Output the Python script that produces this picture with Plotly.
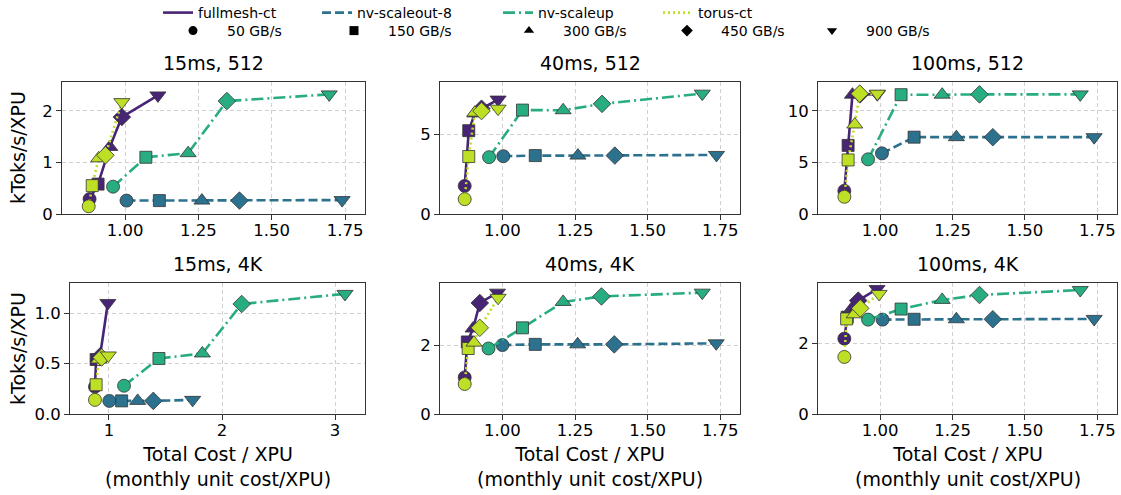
import plotly.graph_objects as go

W, H = 1121, 495

panel_titles = ["15ms, 512", "40ms, 512", "100ms, 512", "15ms, 4K", "40ms, 4K", "100ms, 4K"]
bandwidth_labels = ["50 GB/s", "150 GB/s", "300 GB/s", "450 GB/s", "900 GB/s"]
topologies = ["fullmesh-ct", "nv-scaleout-8", "nv-scaleup", "torus-ct"]

# cost per XPU (x) and throughput (y) for each panel, one list per topology
fullmesh_x = [
    [0.879, 0.908, 0.948, 0.989, 1.112],
    [0.870, 0.884, 0.905, 0.928, 0.985],
    [0.876, 0.889, 0.904, 0.930, 0.990],
    [0.876, 0.886, 0.905, 0.920, 0.990],
    [0.870, 0.879, 0.899, 0.922, 0.983],
    [0.876, 0.886, 0.905, 0.924, 0.989],
]
fullmesh_y = [
    [0.29, 0.58, 1.30, 1.88, 2.30],
    [1.76, 5.22, 6.30, 6.60, 7.17],
    [2.25, 6.65, 11.57, 11.60, 11.62],
    [0.27, 0.54, 0.56, 0.57, 1.10],
    [1.06, 2.09, 2.48, 3.22, 3.52],
    [2.14, 2.75, 3.03, 3.22, 3.55],
]
scaleout_x = [
    [1.005, 1.117, 1.262, 1.390, 1.740],
    [1.003, 1.113, 1.260, 1.387, 1.737],
    [1.006, 1.117, 1.263, 1.389, 1.739],
    [1.003, 1.112, 1.254, 1.392, 1.740],
    [1.000, 1.113, 1.259, 1.385, 1.736],
    [1.008, 1.117, 1.263, 1.389, 1.739],
]
scaleout_y = [
    [0.26, 0.26, 0.26, 0.26, 0.27],
    [3.62, 3.66, 3.66, 3.66, 3.70],
    [5.88, 7.45, 7.45, 7.45, 7.45],
    [0.13, 0.13, 0.13, 0.13, 0.14],
    [2.00, 2.02, 2.02, 2.02, 2.05],
    [2.68, 2.69, 2.69, 2.69, 2.70],
]
scaleup_x = [
    [0.959, 1.071, 1.215, 1.347, 1.696],
    [0.954, 1.069, 1.209, 1.343, 1.688],
    [0.958, 1.072, 1.214, 1.343, 1.691],
    [1.133, 1.442, 1.826, 2.174, 3.088],
    [0.952, 1.069, 1.209, 1.341, 1.688],
    [0.958, 1.072, 1.214, 1.343, 1.691],
]
scaleup_y = [
    [0.53, 1.10, 1.18, 2.19, 2.32],
    [3.56, 6.51, 6.50, 6.90, 7.54],
    [5.30, 11.57, 11.57, 11.60, 11.60],
    [0.28, 0.55, 0.60, 1.09, 1.19],
    [1.90, 2.50, 3.25, 3.41, 3.52],
    [2.68, 2.98, 3.24, 3.38, 3.52],
]
torus_x = [
    [0.876, 0.888, 0.910, 0.933, 0.989],
    [0.870, 0.884, 0.905, 0.928, 0.985],
    [0.876, 0.889, 0.912, 0.929, 0.990],
    [0.876, 0.886, 0.910, 0.935, 0.994],
    [0.870, 0.882, 0.902, 0.922, 0.985],
    [0.876, 0.884, 0.910, 0.931, 0.996],
]
torus_y = [
    [0.15, 0.55, 1.08, 1.14, 2.17],
    [0.93, 3.60, 6.35, 6.45, 6.60],
    [1.67, 5.24, 8.68, 11.67, 11.67],
    [0.14, 0.29, 0.54, 0.56, 0.58],
    [0.87, 1.90, 2.07, 2.50, 3.37],
    [1.62, 2.70, 2.83, 3.00, 3.41],
]

# axis settings
x_ranges = [[0.785, 1.818], [0.785, 1.818], [0.785, 1.818], [0.655, 3.265], [0.785, 1.818], [0.785, 1.818]]
x_ticks = [[1.0, 1.25, 1.5, 1.75]] * 3 + [[1, 2, 3]] + [[1.0, 1.25, 1.5, 1.75]] * 2
x_ticktext = [["1.00", "1.25", "1.50", "1.75"]] * 3 + [["1", "2", "3"]] + [["1.00", "1.25", "1.50", "1.75"]] * 2
y_max = [2.56, 8.27, 12.8, 1.298, 3.80, 3.72]
y_ticks = [[0, 1, 2], [0, 5], [0, 5, 10], [0.0, 0.5, 1.0], [0, 2], [0, 2]]
y_ticktext = [["0", "1", "2"], ["0", "5"], ["0", "5", "10"], ["0.0", "0.5", "1.0"], ["0", "2"], ["0", "2"]]

colors = ["#482475", "#2c718e", "#27ad81", "#bddf26"]
dashes = ["solid", "9px,4px", "12px,4px,2px,4px", "2px,3px"]
symbols = ["circle", "square", "triangle-up", "diamond", "triangle-down"]
sizes = [13, 12, 14, 13.5, 14]

# panel boxes in pixels (left, right, top, bottom)
boxes = [
    (62, 365, 82, 214), (440, 740, 82, 214), (818, 1117, 82, 214),
    (70, 365, 283, 414), (440, 740, 283, 414), (818, 1117, 283, 414),
]

FONT = "DejaVu Sans"
fig = go.Figure()

series = [
    (fullmesh_x, fullmesh_y),
    (scaleout_x, scaleout_y),
    (scaleup_x, scaleup_y),
    (torus_x, torus_y),
]

for p in range(6):
    ax = "" if p == 0 else str(p + 1)
    for t, (xs, ys) in enumerate(series):
        fig.add_trace(go.Scatter(
            x=xs[p], y=ys[p], mode="lines+markers",
            xaxis="x" + ax, yaxis="y" + ax,
            line=dict(color=colors[t], width=2.6, dash=dashes[t]),
            marker=dict(symbol=symbols, size=sizes, color=colors[t], opacity=1,
                        line=dict(color="#333333", width=0.8)),
            showlegend=False, hoverinfo="skip", cliponaxis=False,
        ))
    l, r, tp, b = boxes[p]
    common = dict(showline=True, mirror=True, linecolor="#333333", linewidth=1,
                  ticks="outside", ticklen=5, tickcolor="#333333",
                  tickfont=dict(size=16.5, color="black", family=FONT),
                  showgrid=True, gridcolor="#d0d0d0", griddash="4px,3px", gridwidth=1,
                  zeroline=False)
    fig.update_layout(**{
        "xaxis" + ax: dict(domain=[l / W, r / W], range=x_ranges[p], anchor="y" + ax,
                           tickvals=x_ticks[p], ticktext=x_ticktext[p],
                           ticklabelstandoff=-4, **common),
        "yaxis" + ax: dict(domain=[1 - b / H, 1 - tp / H], range=[0, y_max[p]], anchor="x" + ax,
                           tickvals=y_ticks[p], ticktext=y_ticktext[p], **common),
    })
    fig.add_annotation(text=panel_titles[p], x=(l + r) / 2 / W, y=1 - (tp - 19) / H,
                       xref="paper", yref="paper", showarrow=False,
                       font=dict(size=19, color="black", family=FONT),
                       xanchor="center", yanchor="middle")

# legend entries: one small legend per entry so each can sit where the reference puts it
line_legend_x = [158, 317, 498, 658]
marker_legend_x = [159, 320, 495, 653, 798]
legend_common = dict(orientation="h", xanchor="left", yanchor="top", bgcolor="rgba(0,0,0,0)",
                     font=dict(size=14, color="black", family=FONT), tracegroupgap=0)
legend_layout = {}
n = 0
for t in range(4):
    n += 1
    key = "legend" if n == 1 else "legend%d" % n
    fig.add_trace(go.Scatter(x=[None], y=[None], mode="lines", name=topologies[t],
                             line=dict(color=colors[t], width=2.6, dash=dashes[t]),
                             legend=key, showlegend=True))
    legend_layout[key] = dict(x=line_legend_x[t] / W, y=1 + 3 / H, itemwidth=30, **legend_common)
for k in range(5):
    n += 1
    key = "legend%d" % n
    fig.add_trace(go.Scatter(x=[None], y=[None], mode="markers", name=bandwidth_labels[k],
                             marker=dict(symbol=symbols[k], size=9, color="black"),
                             legend=key, showlegend=True))
    legend_layout[key] = dict(x=marker_legend_x[k] / W, y=1 - 15 / H, itemwidth=58, **legend_common)

# axis labels
for row_center in (148, 349):
    fig.add_annotation(text="kToks/s/XPU", x=18 / W, y=1 - row_center / H, xref="paper", yref="paper",
                       showarrow=False, textangle=-90, font=dict(size=19, color="black", family=FONT),
                       xanchor="center", yanchor="middle")
for p in (3, 4, 5):
    l, r, tp, b = boxes[p]
    fig.add_annotation(text="Total Cost / XPU<br>(monthly unit cost/XPU)", x=(l + r) / 2 / W,
                       y=1 - 466 / H, xref="paper", yref="paper", showarrow=False,
                       font=dict(size=19, color="black", family=FONT),
                       xanchor="center", yanchor="middle")

fig.update_layout(
    width=W, height=H,
    margin=dict(l=0, r=0, t=0, b=0, autoexpand=False),
    paper_bgcolor="white", plot_bgcolor="white",
    font=dict(family=FONT, color="black"),
    showlegend=True,
    **legend_layout,
)

fig.write_html("out.html", config={"displayModeBar": False},
               post_script="document.body.style.margin='0';")
